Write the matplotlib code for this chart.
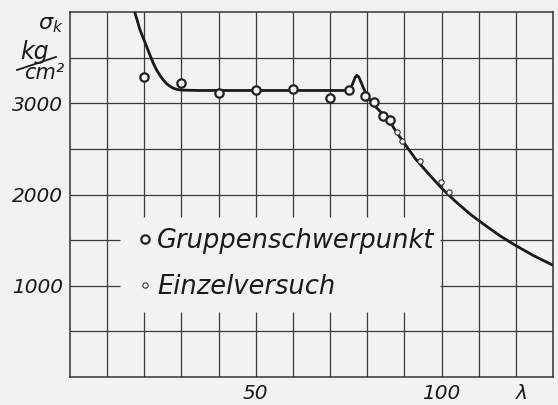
import numpy as np
import matplotlib.pyplot as plt
from matplotlib.lines import Line2D

# Knickspannung sigma_k ueber Schlankheit lambda
curve_lam = [17.2, 18.8, 19.7, 20.6, 21.5, 22.4, 23.3, 24.3, 25.2, 26.1, 27.0, 27.9,
             29.0, 30.2, 35, 45, 55, 65, 74.5, 75.4, 76.1, 76.7, 77.2, 77.7, 78.3,
             78.9, 79.6, 80.4, 81.3, 83.0, 85.9, 88, 90, 93, 96, 100, 104, 108,
             112, 116, 120, 125, 130]
curve_sig = [4030, 3810, 3715, 3625, 3530, 3440, 3365, 3300, 3250, 3211, 3183, 3163,
             3150, 3144, 3140, 3140, 3140, 3140, 3140, 3155, 3215, 3280, 3305, 3290, 3235,
             3175, 3115, 3055, 3000, 2930, 2810, 2675, 2560, 2390, 2250, 2070, 1915, 1775,
             1655, 1540, 1440, 1325, 1225]

grp_lam = [20, 30, 40, 50, 60, 70, 75.1, 79.3, 81.8, 84.2, 86.1]
grp_sig = [3285, 3222, 3111, 3149, 3152, 3060, 3141, 3080, 3010, 2860, 2815]

sgl_lam = [87.9, 89.3, 94.1, 99.8, 102.0]
sgl_sig = [2681, 2586, 2364, 2133, 2030]

lam_grid = list(range(10, 130, 10))
sig_grid = list(range(500, 4000, 500))

bg = '#f2f2f2'
ink = '#1a1a1a'

fig = plt.figure(figsize=(5.58, 4.05), dpi=100, facecolor=bg)
ax = fig.add_axes([70/558, 28/405, 483/558, 365/405])
ax.set_facecolor(bg)
ax.set_xlim(0, 130)
ax.set_ylim(0, 4000)

# Gitter, im Bereich der Legende ausgespart
for l in lam_grid:
    if 20 <= l <= 90:
        ax.vlines(l, 0, 714, color='#3a3a3a', lw=0.9, zorder=1)
        ax.vlines(l, 1750, 4000, color='#3a3a3a', lw=0.9, zorder=1)
    else:
        ax.vlines(l, 0, 4000, color='#3a3a3a', lw=0.9, zorder=1)
for s in sig_grid:
    if s in (1000, 1500):
        ax.hlines(s, 0, 13.5, color='#3a3a3a', lw=0.9, zorder=1)
        ax.hlines(s, 99.5, 130, color='#3a3a3a', lw=0.9, zorder=1)
    else:
        ax.hlines(s, 0, 130, color='#3a3a3a', lw=0.9, zorder=1)

for sp in ax.spines.values():
    sp.set_color('#333333')
    sp.set_linewidth(1.1)

ax.plot(curve_lam, curve_sig, color=ink, lw=2.0, zorder=3,
        solid_capstyle='round', solid_joinstyle='round')
ax.plot(grp_lam, grp_sig, 'o', ms=6, mew=1.6, mfc='#f4f4f4', mec='#222222',
        ls='none', zorder=4)
ax.plot(sgl_lam, sgl_sig, 'o', ms=3.8, mew=0.8, mfc='#f8f8f8', mec='#333333',
        ls='none', zorder=4)

tfont = dict(fontsize=14.5, fontstyle='italic', color=ink)
ax.set_xticks([50, 100])
ax.set_xticklabels(['50', '100'], **tfont)
ax.set_yticks([1000, 2000, 3000])
ax.set_yticklabels(['1000', '2000', '3000'], **tfont)
ax.tick_params(length=0)
ax.tick_params(axis='x', pad=5)
ax.tick_params(axis='y', pad=5)

ax.text(121.5, -0.02, 'λ', transform=ax.get_xaxis_transform(),
        ha='center', va='top', **tfont)

# Einheit oben links
fig.text(51/558, 1 - 25/405, r'$\sigma_k$', fontsize=16, color=ink,
         ha='center', va='center')
fig.text(34/558, 1 - 52/405, 'kg', fontsize=17, fontstyle='italic', color=ink,
         ha='center', va='center')
fig.text(44/558, 1 - 73/405, 'cm²', fontsize=15, fontstyle='italic', color=ink,
         ha='center', va='center')
fig.add_artist(Line2D([17/558, 56/558], [1 - 70/405, 1 - 57/405],
                      color=ink, lw=1.3))

h1 = Line2D([], [], marker='o', ms=6, mew=1.6, mfc='#f4f4f4', mec='#222222', ls='none')
h2 = Line2D([], [], marker='o', ms=3.8, mew=0.8, mfc='#f8f8f8', mec='#333333', ls='none')
leg = ax.legend([h1, h2], ['Gruppenschwerpunkt', 'Einzelversuch'],
                loc='upper left', bbox_to_anchor=(0.143, 0.408), frameon=False,
                borderpad=0, borderaxespad=0,
                handlelength=0.5, handletextpad=0.2, labelspacing=0.78,
                prop=dict(size=18.5, style='italic'))
for t in leg.get_texts():
    t.set_color(ink)

fig.savefig('out.png', dpi=100, facecolor=bg)
